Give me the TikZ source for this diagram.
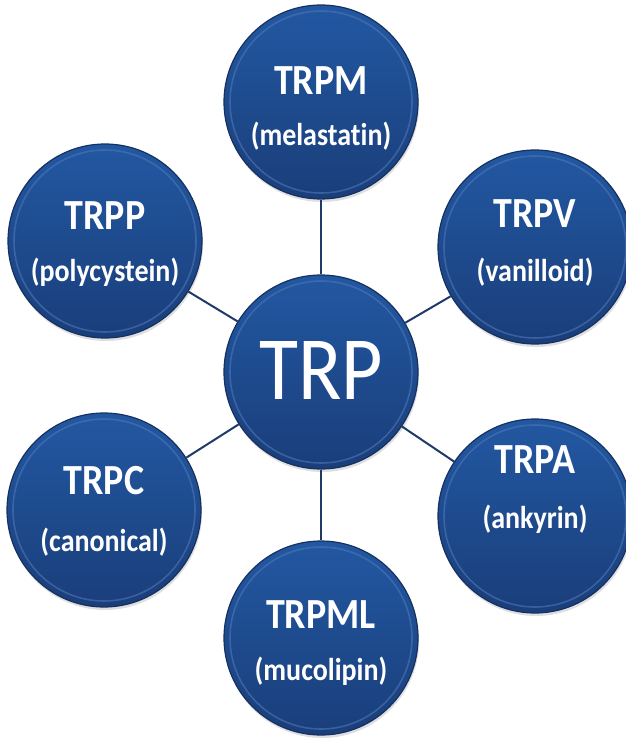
\documentclass[tikz,border=0pt]{standalone}
\usepackage{fontspec}
\setmainfont{Carlito}[Ligatures=NoCommon]
\usetikzlibrary{positioning,shadows}

\definecolor{balltop}{RGB}{34,88,162}
\definecolor{ballbot}{RGB}{26,62,122}
\definecolor{balledge}{RGB}{22,48,96}
\definecolor{ballrim}{RGB}{78,118,182}
\definecolor{linkblue}{RGB}{32,58,104}

% text in the balls is a bit taller than the font
\newcommand{\tall}[1]{\scalebox{1}[1.13]{#1}}

\begin{document}
\begin{tikzpicture}[x=1pt,y=-1pt]
	\tikzset{
	    ball/.style={
	         circle, minimum size=194pt, inner sep=0pt,
	         top color=balltop, bottom color=ballbot,
	         draw=balledge, line width=1.2pt,
	         drop shadow={opacity=0.25, shadow xshift=1pt, shadow yshift=-3pt},
	         path picture={\draw[ballrim, line width=1.6pt, opacity=0.6]
	             (path picture bounding box.center) circle (91pt);}
	    },
	    ballname/.style={text=white, inner sep=0pt, font=\bfseries\fontsize{38}{38}\selectfont},
	    ballsub/.style={text=white, inner sep=0pt, font=\bfseries\fontsize{28}{28}\selectfont},
	    link/.style={draw=linkblue, line width=2pt}
	}

	\useasboundingbox (0,0) rectangle (625,743);

	\node[ball] (trp) at (321,372) {};
	\node[ball] (trpm) at (321,102) {};
	\node[ball] (trpp) at (105,241) {};
	\node[ball] (trpv) at (535,247) {};
	\node[ball] (trpc) at (104,510) {};
	\node[ball] (trpa) at (535,516) {};
	\node[ball] (trpml) at (321,638) {};

	\draw[link] (trp) -- (trpm);
	\draw[link] (trp) -- (trpp);
	\draw[link] (trp) -- (trpv);
	\draw[link] (trp) -- (trpc);
	\draw[link] (trp) -- (trpa);
	\draw[link] (trp) -- (trpml);

	\node[text=white, inner sep=0pt, font=\fontsize{80}{80}\selectfont] (trp-name) at ([yshift=2pt]trp) {\tall{TRP}};

	\node[ballname] (trpm-name) at ([yshift=21pt]trpm) {\tall{TRPM}};
	\node[ballsub] (trpm-sub) at ([yshift=-34pt]trpm) {\tall{(melastatin)}};

	\node[ballname] (trpp-name) at ([yshift=25pt]trpp) {\tall{TRPP}};
	\node[ballsub] (trpp-sub) at ([yshift=-31pt]trpp) {\tall{(polycystein)}};

	\node[ballname] (trpv-name) at ([yshift=33pt]trpv) {\tall{TRPV}};
	\node[ballsub] (trpv-sub) at ([yshift=-25pt]trpv) {\tall{(vanilloid)}};

	\node[ballname] (trpc-name) at ([yshift=29pt]trpc) {\tall{TRPC}};
	\node[ballsub] (trpc-sub) at ([yshift=-32pt]trpc) {\tall{(canonical)}};

	\node[ballname] (trpa-name) at ([yshift=56pt]trpa) {\tall{TRPA}};
	\node[ballsub] (trpa-sub) at ([yshift=-3pt]trpa) {\tall{(ankyrin)}};

	\node[ballname] (trpml-name) at ([yshift=23pt]trpml) {\tall{TRPML}};
	\node[ballsub] (trpml-sub) at ([yshift=-33pt]trpml) {\tall{(mucolipin)}};
\end{tikzpicture}
\end{document}
